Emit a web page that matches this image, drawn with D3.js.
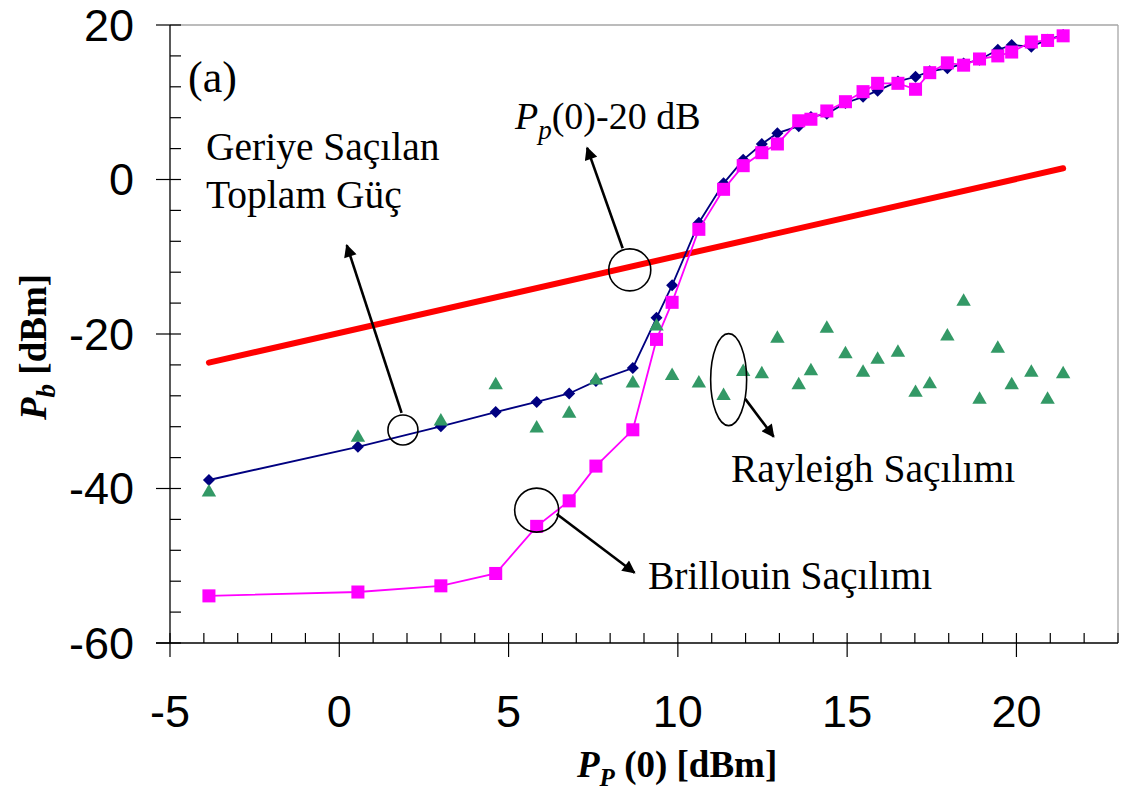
<!DOCTYPE html>
<html><head><meta charset="utf-8">
<script src="https://cdn.jsdelivr.net/npm/d3@7"></script>
<style>body{margin:0;background:#fff}</style>
</head><body><svg id="c" width="1129" height="796"></svg>
<script>
// ---- data ----
const pumpPower = [-3.85, 0.55, 3.0, 4.62, 5.83, 6.79, 7.58, 8.67, 9.37, 9.83, 10.62, 11.35, 11.93, 12.48, 12.94, 13.57, 13.93, 14.4, 14.95, 15.47, 15.9, 16.5, 17.02, 17.44, 17.96, 18.44, 18.91, 19.45, 19.86, 20.44, 20.92, 21.38];
const totalBackscatter = [-38.9, -34.6, -31.95, -30.1, -28.8, -27.7, -26.1, -24.4, -17.9, -13.7, -5.6, -0.5, 2.55, 4.6, 6.0, 6.9, 8.1, 8.5, 9.9, 10.7, 11.5, 12.7, 13.3, 14.0, 14.4, 15.0, 15.5, 16.8, 17.4, 17.2, 18.1, 18.7];
const brillouin = [-53.9, -53.4, -52.6, -51.0, -44.9, -41.6, -37.1, -32.4, -20.7, -15.9, -6.45, -1.27, 1.79, 3.47, 4.6, 7.6, 7.8, 8.87, 10.07, 11.37, 12.45, 12.45, 11.68, 13.83, 15.1, 14.8, 15.6, 16.0, 16.5, 17.8, 18.0, 18.6];
const rayleigh = [-40.5, -33.4, -31.3, -26.6, -32.2, -30.3, -26.0, -26.4, -19.0, -25.4, -26.4, -28.0, -24.9, -25.2, -20.6, -26.6, -24.8, -19.3, -22.6, -25.0, -23.3, -22.4, -27.6, -26.5, -20.3, -15.8, -28.5, -21.9, -26.6, -25.0, -28.5, -25.2];
const refLineX = [-3.85, 21.38];
const refLineY = [-23.7, 1.45];
const xTickValues = [-5, 0, 5, 10, 15, 20];
const yTickValues = [-60, -40, -20, 0, 20];

const svg = d3.select("#c");
const W = 1129, H = 796;
svg.append("rect").attr("width", W).attr("height", H).attr("fill", "#fff");

const x = d3.scaleLinear().domain([-5, 23]).range([170, 1118]);
const y = d3.scaleLinear().domain([-60, 20]).range([643, 25]);

const serif = "'Liberation Serif','Times New Roman',serif";
const sans = "'Liberation Sans',Arial,sans-serif";

// frame (top/right in gray)
svg.append("line").attr("x1", x(-5)).attr("x2", x(23)).attr("y1", y(20)).attr("y2", y(20)).attr("stroke", "#a6a6a6").attr("stroke-width", 1.3);
svg.append("line").attr("x1", x(23)).attr("x2", x(23)).attr("y1", y(20)).attr("y2", y(-60)).attr("stroke", "#a6a6a6").attr("stroke-width", 1.3);

// x axis
const gx = svg.append("g").attr("transform", `translate(0,${y(-60)})`);
gx.append("line").attr("x1", x(-5) - 14).attr("x2", x(23)).attr("stroke", "#000").attr("stroke-width", 1.3);
gx.selectAll(".xmin").data(d3.range(-4, 24, 1).filter(v => v % 5 !== 0)).join("line")
  .attr("x1", d => x(d)).attr("x2", d => x(d)).attr("y1", 0).attr("y2", -10).attr("stroke", "#000").attr("stroke-width", 1.2);
gx.selectAll(".xmaj").data(xTickValues).join("line")
  .attr("x1", d => x(d)).attr("x2", d => x(d)).attr("y1", -10).attr("y2", 14).attr("stroke", "#000").attr("stroke-width", 1.2);
gx.selectAll(".xl").data(xTickValues).join("text")
  .attr("x", d => x(d)).attr("y", 84).attr("text-anchor", "middle")
  .attr("font-family", sans).attr("font-size", 45).text(d => d);

// y axis
const gy = svg.append("g").attr("transform", `translate(${x(-5)},0)`);
gy.append("line").attr("y1", y(20)).attr("y2", y(-60)).attr("stroke", "#000").attr("stroke-width", 1.3);
gy.selectAll(".ymin").data(d3.range(-56, 20, 4).filter(v => v % 20 !== 0)).join("line")
  .attr("y1", d => y(d)).attr("y2", d => y(d)).attr("x1", 0).attr("x2", 11).attr("stroke", "#000").attr("stroke-width", 1.2);
gy.selectAll(".ymaj").data(yTickValues).join("line")
  .attr("y1", d => y(d)).attr("y2", d => y(d)).attr("x1", -14).attr("x2", 11).attr("stroke", "#000").attr("stroke-width", 1.2);
gy.selectAll(".yl").data(yTickValues).join("text")
  .attr("x", -36).attr("y", d => y(d)).attr("dy", "0.35em").attr("text-anchor", "end")
  .attr("font-family", sans).attr("font-size", 45).text(d => d);

// axis titles
const xt = svg.append("text").attr("x", 577).attr("y", 777).attr("font-family", serif).attr("font-weight", "bold").attr("font-size", 37);
xt.append("tspan").attr("font-style", "italic").text("P");
xt.append("tspan").attr("font-style", "italic").attr("font-size", 25).attr("dy", 9).text("P");
xt.append("tspan").attr("dy", -9).text(" (0) [dBm]");

const yt = svg.append("text").attr("transform", "translate(46,420) rotate(-90)").attr("font-family", serif).attr("font-weight", "bold").attr("font-size", 37);
yt.append("tspan").attr("font-style", "italic").text("P");
yt.append("tspan").attr("font-style", "italic").attr("font-size", 27).attr("dy", 9).text("b");
yt.append("tspan").attr("dy", -9).text(" [dBm]");

const idx = d3.range(pumpPower.length);

// red reference line Pp(0)-20 dB
svg.append("path").datum(d3.range(refLineX.length))
  .attr("d", d3.line().x(i => x(refLineX[i])).y(i => y(refLineY[i])))
  .attr("stroke", "#ff0000").attr("stroke-width", 6).attr("fill", "none").attr("stroke-linecap", "round");

// total backscattered (navy diamonds)
svg.append("path").datum(idx).attr("d", d3.line().x(i => x(pumpPower[i])).y(i => y(totalBackscatter[i])))
  .attr("stroke", "#000080").attr("stroke-width", 1.8).attr("fill", "none");
svg.selectAll(".dia").data(idx).join("path")
  .attr("transform", i => `translate(${x(pumpPower[i])},${y(totalBackscatter[i])}) rotate(45)`)
  .attr("d", d3.symbol().type(d3.symbolSquare).size(72)).attr("fill", "#000080");

// Brillouin (magenta squares)
svg.append("path").datum(idx).attr("d", d3.line().x(i => x(pumpPower[i])).y(i => y(brillouin[i])))
  .attr("stroke", "#ff00ff").attr("stroke-width", 1.8).attr("fill", "none");
svg.selectAll(".sq").data(idx).join("path")
  .attr("transform", i => `translate(${x(pumpPower[i])},${y(brillouin[i])})`)
  .attr("d", d3.symbol().type(d3.symbolSquare).size(170)).attr("fill", "#ff00ff");

// Rayleigh (green triangles)
svg.selectAll(".tri").data(idx).join("path")
  .attr("transform", i => `translate(${x(pumpPower[i])},${y(rayleigh[i])})`)
  .attr("d", d3.symbol().type(d3.symbolTriangle).size(90)).attr("fill", "#339966");

// annotations
const defs = svg.append("defs");
defs.append("marker").attr("id", "ah").attr("viewBox", "0 0 10 10").attr("refX", 9).attr("refY", 5)
  .attr("markerWidth", 6).attr("markerHeight", 5).attr("markerUnits", "strokeWidth").attr("orient", "auto")
  .append("path").attr("d", "M0,0 L10,5 L0,10 z").attr("fill", "#000");

const circles = [
  {cx: 1.88, cy: -32.43, rx: 15, ry: 15},
  {cx: 8.58, cy: -11.7, rx: 21, ry: 21},
  {cx: 11.5, cy: -25.9, rx: 18, ry: 46},
  {cx: 5.83, cy: -42.8, rx: 22, ry: 22}
];
const arrows = [
  {x1: 1.84, y1: -30.2, x2: 0.22, y2: -8.5},
  {x1: 8.37, y1: -8.9, x2: 7.32, y2: 4.1},
  {x1: 11.99, y1: -28.4, x2: 12.83, y2: -33.3},
  {x1: 6.42, y1: -43.3, x2: 8.72, y2: -50.9}
];
svg.selectAll(".circ").data(circles).join("ellipse")
  .attr("cx", d => x(d.cx)).attr("cy", d => y(d.cy)).attr("rx", d => d.rx).attr("ry", d => d.ry)
  .attr("fill", "none").attr("stroke", "#000").attr("stroke-width", 1.6);
svg.selectAll(".arr").data(arrows).join("line")
  .attr("x1", d => x(d.x1)).attr("y1", d => y(d.y1)).attr("x2", d => x(d.x2)).attr("y2", d => y(d.y2))
  .attr("stroke", "#000").attr("stroke-width", 2.6).attr("marker-end", "url(#ah)");

function label(px, py, txt, size) {
  return svg.append("text").attr("x", px).attr("y", py).attr("font-family", serif).attr("font-size", size || 39.5).text(txt);
}
label(188, 92, "(a)", 44);
label(206, 160, "Geriye Saçılan");
label(206, 208, "Toplam Güç");
label(731, 482, "Rayleigh Saçılımı");
label(648, 589, "Brillouin Saçılımı");
const pl = svg.append("text").attr("x", 515).attr("y", 129).attr("font-family", serif).attr("font-size", 38);
pl.append("tspan").attr("font-style", "italic").text("P");
pl.append("tspan").attr("font-style", "italic").attr("font-size", 27).attr("dy", 10).text("p");
pl.append("tspan").attr("dy", -10).text("(0)-20 dB");
</script></body></html>
